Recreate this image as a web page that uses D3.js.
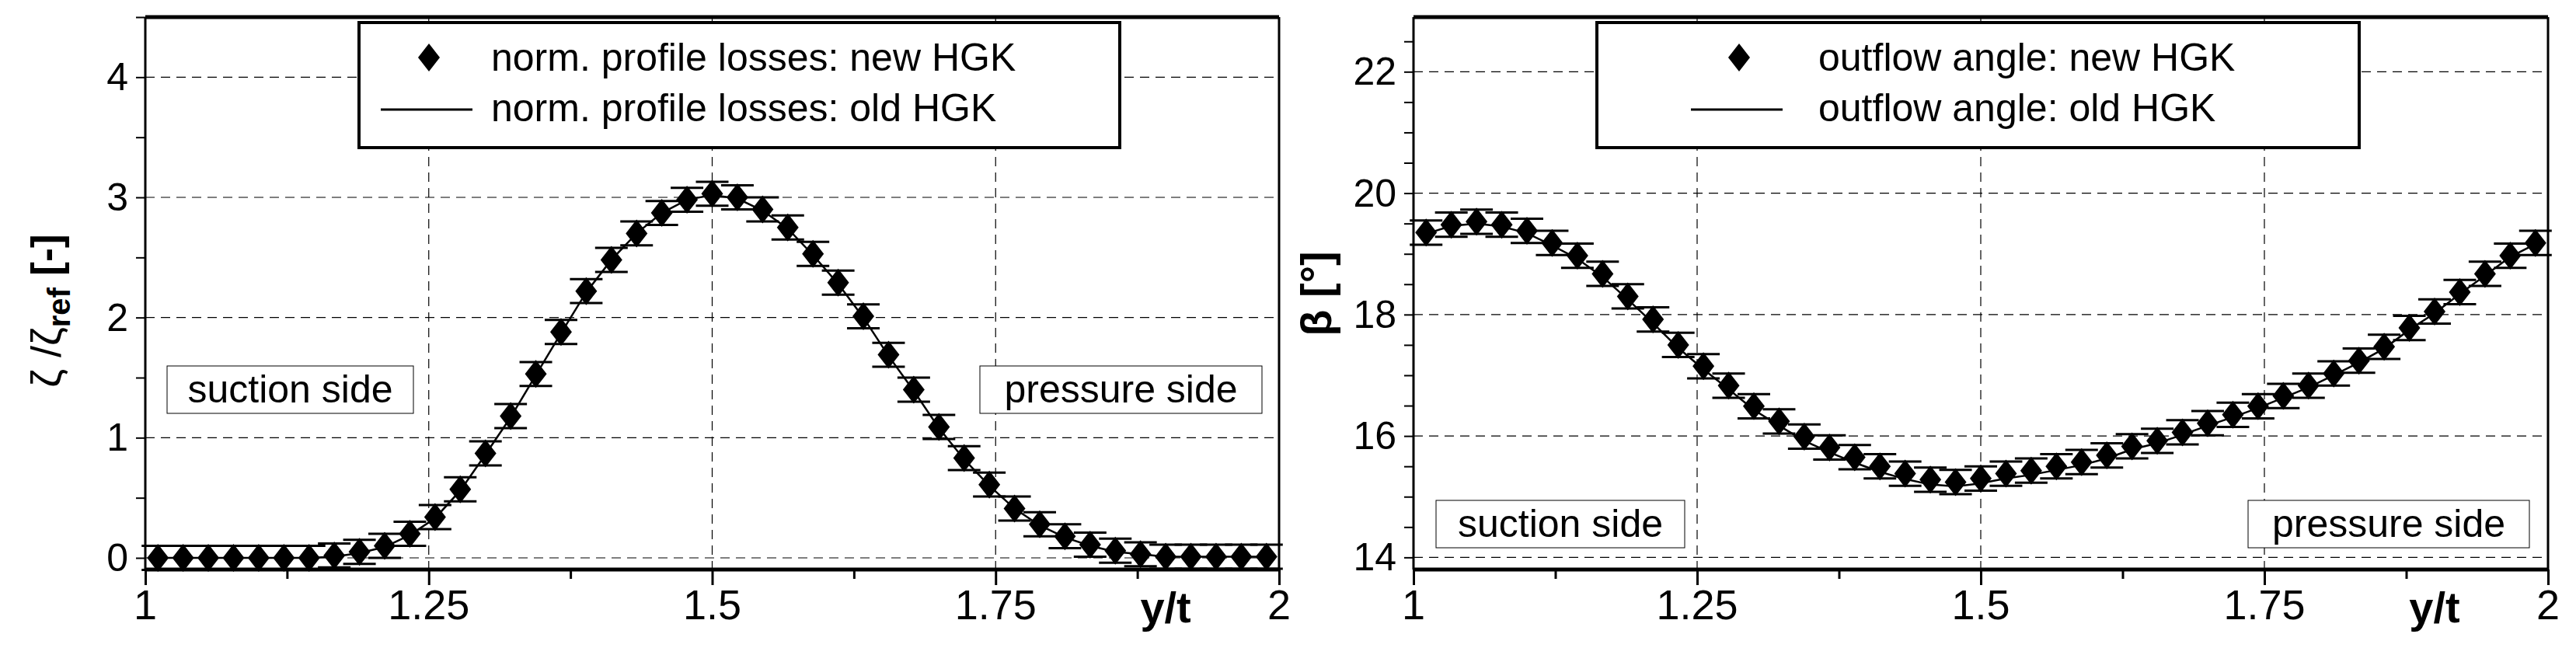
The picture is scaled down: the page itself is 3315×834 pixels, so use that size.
<!DOCTYPE html><html><head><meta charset="utf-8">
<script src="https://cdn.jsdelivr.net/npm/d3@7"></script>
<style>body{margin:0;background:#fff}</style></head><body>
<svg id="c" width="3315" height="834"></svg>
<script>
const xTicks=[1,1.25,1.5,1.75,2];
const xTickLabels=["1","1.25","1.5","1.75","2"];
const lossNew=[0,0,0,0,0,0,0,0.02,0.05,0.1,0.2,0.34,0.57,0.87,1.18,1.53,1.88,2.22,2.48,2.7,2.87,2.98,3.03,3.0,2.9,2.75,2.53,2.29,2.01,1.69,1.4,1.09,0.83,0.61,0.41,0.28,0.18,0.11,0.06,0.03,0.01,0.01,0.01,0.01,0.01];
const lossOld=[0,0,0,0,0,0,0,0.01,0.04,0.09,0.19,0.33,0.56,0.86,1.17,1.52,1.87,2.21,2.48,2.7,2.87,2.98,3.02,2.99,2.89,2.74,2.52,2.28,2.0,1.68,1.39,1.08,0.82,0.6,0.41,0.27,0.17,0.1,0.05,0.03,0.01,0.01,0.01,0.01,0.01];
const angNew=[19.35,19.48,19.53,19.48,19.38,19.18,18.97,18.67,18.3,17.92,17.5,17.15,16.83,16.49,16.24,15.99,15.81,15.65,15.5,15.38,15.28,15.24,15.3,15.38,15.43,15.5,15.57,15.68,15.83,15.92,16.06,16.21,16.35,16.49,16.66,16.83,17.03,17.24,17.47,17.78,18.05,18.37,18.67,18.97,19.18];
const angOld=[19.33,19.46,19.5,19.45,19.34,19.14,18.92,18.62,18.25,17.86,17.45,17.1,16.77,16.43,16.17,15.92,15.73,15.56,15.41,15.29,15.2,15.17,15.22,15.3,15.36,15.44,15.52,15.63,15.78,15.88,16.02,16.17,16.31,16.46,16.63,16.8,17.0,17.21,17.44,17.75,18.02,18.34,18.64,18.95,19.16];
const xs=d3.range(45).map(i=>1+(i+0.5)/45);
const svg=d3.select("#c");
const F="'Liberation Sans Narrow','Arial Narrow','Liberation Sans',sans-serif";
function panel(o){
  const g=svg.append("g").attr("transform",`translate(${o.ox},0)`);
  const x=d3.scaleLinear().domain([1,2]).range([o.l,o.r]);
  const y=d3.scaleLinear().domain(o.yd).range([o.b,o.t]);
  // grid
  xTicks.slice(1,-1).forEach(v=>g.append("line").attr("x1",x(v)).attr("x2",x(v)).attr("y1",o.t).attr("y2",o.b).attr("stroke","#000").attr("stroke-width",1.2).attr("stroke-dasharray","12,8"));
  o.yt.forEach(v=>g.append("line").attr("x1",o.l).attr("x2",o.r).attr("y1",y(v)).attr("y2",y(v)).attr("stroke","#000").attr("stroke-width",1.2).attr("stroke-dasharray","12,8"));
  // axes
  const xa=g.append("g").attr("transform",`translate(0,${o.b})`).call(d3.axisBottom(x).tickValues(d3.range(1,2.001,0.125)).tickSize(17).tickFormat(""));
  xa.selectAll("line").attr("stroke-width",3).attr("y2",(d)=>Math.abs((d*4)%1)<1e-6?20:12);
  xa.select(".domain").remove();
  xTicks.forEach((v,i)=>g.append("text").attr("x",x(v)).attr("y",o.b+64).attr("text-anchor","middle").attr("font-family",F).attr("font-size",54).text(xTickLabels[i]));
  const ya=g.append("g").attr("transform",`translate(${o.l},0)`).call(d3.axisLeft(y).tickValues(o.ym).tickSize(12).tickFormat(""));
  ya.selectAll("line").attr("stroke-width",2);ya.select(".domain").remove();
  o.yt.forEach(v=>g.append("text").attr("x",o.l-22).attr("y",y(v)+17).attr("text-anchor","end").attr("font-family",F).attr("font-size",50).text(String(v)));
  g.append("text").attr("x",x(1.9)).attr("y",o.b+68).attr("text-anchor","middle").attr("font-family",F).attr("font-weight","bold").attr("font-size",56).text("y/t");
  // old line
  g.append("path").datum(o.old).attr("d",d3.line().x((d,i)=>x(xs[i])).y(d=>y(d))).attr("fill","none").attr("stroke","#000").attr("stroke-width",2.5);
  // error bars + diamonds
  o.nw.forEach((v,i)=>{
    const cx=x(xs[i]);
    g.append("line").attr("x1",cx).attr("x2",cx).attr("y1",y(v-o.e)).attr("y2",y(v+o.e)).attr("stroke","#000").attr("stroke-width",2.5);
    [v-o.e,v+o.e].forEach(w=>g.append("line").attr("x1",cx-21).attr("x2",cx+21).attr("y1",y(w)).attr("y2",y(w)).attr("stroke","#000").attr("stroke-width",3));
    const cy=y(v);
    g.append("path").attr("d",`M${cx},${cy-18}L${cx+14},${cy}L${cx},${cy+18}L${cx-14},${cy}Z`).attr("fill","#000");
  });
  // frame
  g.append("line").attr("x1",o.l).attr("x2",o.r).attr("y1",o.t).attr("y2",o.t).attr("stroke","#000").attr("stroke-width",5);
  g.append("line").attr("x1",o.l).attr("x2",o.r).attr("y1",o.b).attr("y2",o.b).attr("stroke","#000").attr("stroke-width",5);
  g.append("line").attr("x1",o.l).attr("x2",o.l).attr("y1",o.t).attr("y2",o.b).attr("stroke","#000").attr("stroke-width",3);
  g.append("line").attr("x1",o.r).attr("x2",o.r).attr("y1",o.t).attr("y2",o.b).attr("stroke","#000").attr("stroke-width",3);
  // legend
  const L=o.leg;
  g.append("rect").attr("x",L.x).attr("y",29).attr("width",L.w).attr("height",161).attr("fill","#fff").attr("stroke","#000").attr("stroke-width",4);
  const dx=L.x+L.dx;
  g.append("path").attr("d",`M${dx},${56}L${dx+14},${74}L${dx},${92}L${dx-14},${74}Z`);
  g.append("line").attr("x1",dx-62).attr("x2",dx+56).attr("y1",141).attr("y2",141).attr("stroke","#000").attr("stroke-width",3);
  [[L.t1,91],[L.t2,156]].forEach(([t,yy])=>g.append("text").attr("x",L.x+L.tx).attr("y",yy).attr("font-family",F).attr("font-size",50).text(t));
  // side labels
  o.sides.forEach(s=>{
    g.append("rect").attr("x",s[0]).attr("y",s[2]).attr("width",s[1]-s[0]).attr("height",61).attr("fill","#fff").attr("stroke","#000").attr("stroke-width",1);
    g.append("text").attr("x",(s[0]+s[1])/2).attr("y",s[2]+47).attr("text-anchor","middle").attr("font-family",F).attr("font-size",50).text(s[3]);
  });
  return g;
}
const g1=panel({ox:0,l:187,r:1646,t:22,b:733,yd:[-0.097,4.5],yt:[0,1,2,3,4],ym:d3.range(0,4.6,0.5),nw:lossNew,old:lossOld,e:0.1,
  leg:{x:462,w:979,dx:90,tx:170,t1:"norm. profile losses: new HGK",t2:"norm. profile losses: old HGK"},
  sides:[[215,532,471,"suction side"],[1261,1624,471,"pressure side"]]});
const y1=g1.append("text").attr("transform","translate(78,400) rotate(-90)").attr("text-anchor","middle").attr("font-family",F).attr("font-size",54);
y1.append("tspan").text("ζ /ζ");
y1.append("tspan").attr("font-weight","bold").attr("font-size",40).attr("dy",12).text("ref");
y1.append("tspan").attr("font-weight","bold").attr("dy",-12).text(" [-]");
const g2=panel({ox:1655,l:164,r:1624,t:22,b:733,yd:[13.8,22.9],yt:[14,16,18,20,22],ym:d3.range(14,23,0.5),nw:angNew,old:angOld,e:0.2,
  leg:{x:400,w:981,dx:183,tx:285,t1:"outflow angle: new HGK",t2:"outflow angle: old HGK"},
  sides:[[193,513,644,"suction side"],[1238,1600,644,"pressure side"]]});
g2.append("text").attr("transform","translate(58,378) rotate(-90)").attr("text-anchor","middle").attr("font-family",F).attr("font-size",56).attr("font-weight","bold").text("β [°]");
</script></body></html>
